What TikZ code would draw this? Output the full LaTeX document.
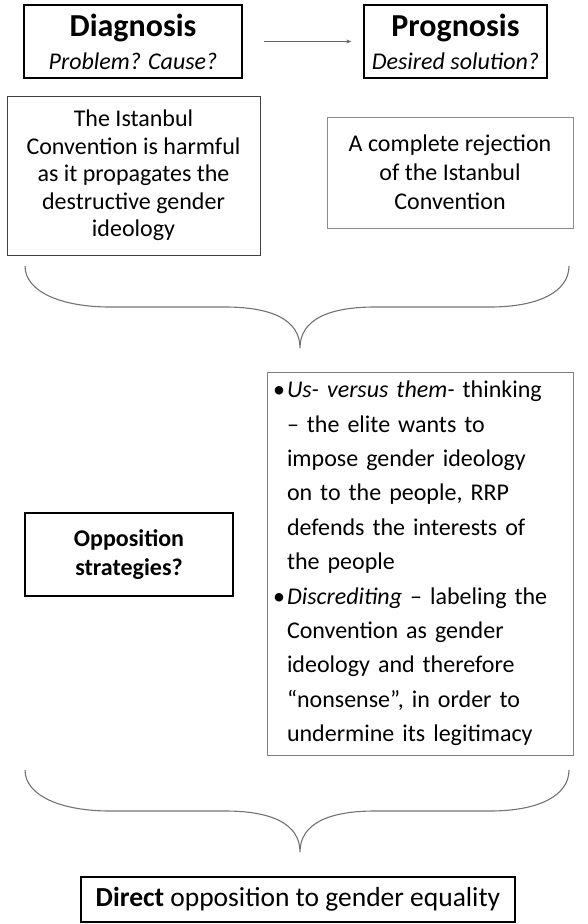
\documentclass[tikz,border=0pt]{standalone}
\usepackage{fontspec}
\setmainfont{Carlito}
\usetikzlibrary{arrows.meta}
\begin{document}
\begin{tikzpicture}[x=1pt,y=-1pt,
  headbox/.style={draw=black, line width=1.3pt, align=center, inner sep=0pt},
  textbox/.style={draw=#1, line width=0.9pt, align=center, inner sep=0pt},
  bracestyle/.style={draw=black!55, line width=1.1pt},
  arrowstyle/.style={draw=black!60, line width=0.9pt, -{Stealth[length=5pt,width=4pt]}}
]
\useasboundingbox (0,0) rectangle (588,924);
\newcommand{\blt}{\makebox[16pt][c]{•}}
\newcommand{\ind}{\hspace*{16pt}}

% top heading boxes
\node[headbox, minimum width=218, minimum height=73, font=\fontsize{24}{33}\selectfont] (diag) at (133,41.5)
  {{\fontsize{32}{33}\selectfont\bfseries Diagnosis}\\{\itshape Problem? Cause?}};
\node[headbox, minimum width=183, minimum height=73, font=\fontsize{24}{33}\selectfont] (prog) at (455.5,41.5)
  {{\fontsize{32}{33}\selectfont\bfseries Prognosis}\\{\itshape Desired solution?}};
\draw[arrowstyle, shorten <=21pt, shorten >=12pt] (diag.east) -- (prog.west);

% content boxes
\node[textbox=black!75, minimum width=253, minimum height=159, font=\fontsize{24}{27.5}\selectfont] (diagtext) at (133.5,175.5)
  {The Istanbul\\Convention is harmful\\as it propagates the\\destructive gender\\ideology};
\node[textbox=black!45, minimum width=246, minimum height=111, font=\fontsize{24}{29}\selectfont] (progtext) at (450,172.5)
  {A complete rejection\\of the Istanbul\\Convention};

% braces
\foreach \dy in {0,504}{
  \begin{scope}[shift={(0,\dy)}]
  \draw[bracestyle] (25,266) .. controls (25,292) and (62,307) .. (110,307) -- (225,307)
     .. controls (272,307) and (300,320) .. (300,348)
     .. controls (300,320) and (328,307) .. (375,307) -- (490,307)
     .. controls (538,307) and (569,292) .. (569,266);
  \end{scope}
}

% strategies
\node[headbox, minimum width=208, minimum height=83, font=\fontsize{24}{29}\selectfont\bfseries] (opp) at (129,554.5)
  {Opposition\\strategies?};
\node[draw=black!50, line width=0.9pt, minimum width=306, minimum height=383, text width=298, inner xsep=4pt, inner ysep=0pt,
      align=left, font=\fontsize{24}{34.4}\selectfont] (strat) at (420,563.5)
  {\blt\textit{Us- versus them-} thinking\\
   \ind– the elite wants to\\
   \ind impose gender ideology\\
   \ind on to the people, RRP\\
   \ind defends the interests of\\
   \ind the people\\
   \blt\textit{Discrediting} – labeling the\\
   \ind Convention as gender\\
   \ind ideology and therefore\\
   \ind“nonsense”, in order to\\
   \ind undermine its legitimacy};

% result
\node[headbox, minimum width=434, minimum height=45, font=\fontsize{27.5}{30}\selectfont] (direct) at (298,899.5)
  {\textbf{Direct} opposition to gender equality};
\end{tikzpicture}
\end{document}
